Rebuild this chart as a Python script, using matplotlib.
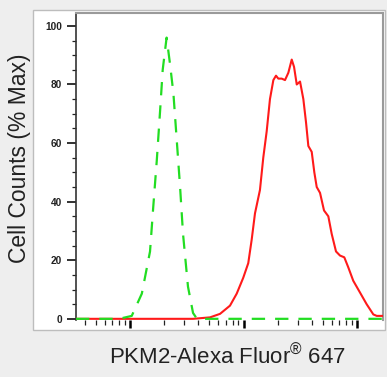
import matplotlib
matplotlib.use("Agg")
import matplotlib.pyplot as plt
from matplotlib.patches import Rectangle
from matplotlib.ticker import FixedLocator, LogLocator, NullFormatter

plt.rcParams['font.family'] = ['Liberation Sans', 'DejaVu Sans']
plt.rcParams['mathtext.fontset'] = 'custom'
plt.rcParams['mathtext.rm'] = 'Liberation Sans'
plt.rcParams['mathtext.it'] = 'Liberation Sans'

# Isotype control (green dashed)
iso_x = [33.4, 80, 103.5, 127, 150, 160, 172, 184, 194, 210, 225, 241, 258, 276, 293, 324, 359, 389, 1000, 16950]
iso_y = [0, 0, 1, 8.6, 23, 38, 54, 71, 85, 96, 87, 77, 61, 45, 29, 11, 2, 0, 0, 0]

# PKM2 stained (red solid)
pkm_x = [33.4, 359, 507, 621, 760, 871, 994, 1101, 1180, 1262, 1396, 1493, 1600, 1710,
         1832, 1933, 2026, 2171, 2321, 2483, 2660, 2788, 2945, 3148, 3367, 3556, 3726,
         3990, 4207, 4416, 4723, 5120, 5589, 5984, 6531, 7083, 7727, 8375, 9268, 10620,
         12160, 13930, 14930, 16950]
pkm_y = [0, 0, 0.5, 1.7, 4.5, 8.6, 14, 19, 27, 36, 44, 55, 64, 75,
         81.5, 83, 82, 82, 81.5, 84, 88.5, 86, 80, 81, 75, 67, 59,
         57, 50, 45, 43, 37, 35, 29, 23, 21.6, 21, 17.6, 13, 9,
         5, 1.5, 1, 1]

y_major = [0, 20, 40, 60, 80, 100]
y_labels = ['0', '20', '40', '60', '80', '100']
x_label = "PKM2-Alexa Fluor$^{\u00ae}$ 647"
y_label = "Cell Counts (% Max)"

W, H = 387, 377
fig = plt.figure(figsize=(W / 100, H / 100), dpi=100, facecolor='#eeeeee')

# white panel with light border
fig.patches.append(Rectangle((33 / W, 1 - 330 / H), (385 - 33) / W, (330 - 10) / H,
                             transform=fig.transFigure, facecolor='white',
                             edgecolor='#bdbdbd', linewidth=1.0, zorder=-5))

ax = fig.add_axes([76 / W, 1 - 320 / H, (383 - 76) / W, (320 - 13) / H])
ax.set_zorder(2)
ax.set_facecolor('white')

ax.plot(pkm_x, pkm_y, color='#ff1a1a', lw=1.5, zorder=3, solid_joinstyle='round')
ax.plot(iso_x, iso_y, color='#22dd22', lw=1.6, dashes=(6, 4.5), zorder=4)

ax.set_xscale('log')
ax.set_xlim(33.4, 16950)
ax.set_ylim(-0.4, 104.4)

ax.xaxis.set_major_locator(FixedLocator([100, 1000, 10000]))
ax.xaxis.set_minor_locator(LogLocator(base=10, subs=range(2, 10)))
ax.xaxis.set_major_formatter(NullFormatter())
ax.xaxis.set_minor_formatter(NullFormatter())

ax.set_yticks(y_major)
ax.set_yticklabels(y_labels, fontsize=7.3, fontweight='bold', color='#222222')
ax.yaxis.set_minor_locator(FixedLocator(range(5, 105, 5)))

ax.tick_params(axis='y', which='major', direction='out', length=6.5, width=1.3, pad=3.6, color='#222222')
ax.tick_params(axis='y', which='minor', direction='out', length=3, width=0.9, color='#222222')
ax.tick_params(axis='x', which='major', direction='out', length=5.5, width=1.8, color='black')
ax.tick_params(axis='x', which='minor', direction='out', length=3.5, width=0.9, color='#222222')

ax.spines['left'].set_color('#333333')
ax.spines['left'].set_linewidth(1.2)
ax.spines['bottom'].set_visible(False)
for s in ('top', 'right'):
    ax.spines[s].set_color('#9a9a9a')
    ax.spines[s].set_linewidth(1.5)

fig.text(20 / W, 1 - 158 / H, y_label, rotation=90, ha='center', va='center',
         fontsize=16.5, color='#222222')
fig.text(227.5 / W, 1 - 357 / H, x_label, ha='center', va='center',
         fontsize=16, color='#222222')

fig.savefig('out.png', dpi=100, facecolor=fig.get_facecolor())
